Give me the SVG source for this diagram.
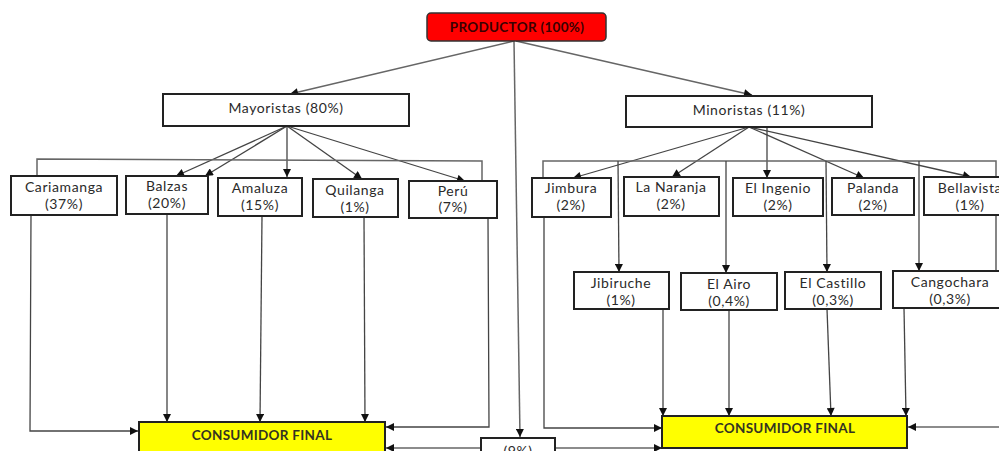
<svg xmlns="http://www.w3.org/2000/svg" width="999" height="451" viewBox="0 0 999 451">
<defs>
<marker id="arr" viewBox="0 0 10 10" refX="10" refY="5" markerWidth="9" markerHeight="8" orient="auto" markerUnits="userSpaceOnUse">
<path d="M0,0 L10,5 L0,10 z" fill="#111"/>
</marker>
<style>
.box{fill:#fff;stroke:#222;stroke-width:2}
.red{fill:#f00;stroke:#333;stroke-width:1.5}
.yel{fill:#ff0;stroke:#222;stroke-width:2}
text{font-family:Lato,"Open Sans","Liberation Sans",sans-serif;font-size:14px;fill:#2a2a2a;text-anchor:middle;font-weight:400;letter-spacing:0.6px}
.cap{font-size:13.5px;fill:#332;font-weight:700;letter-spacing:0.3px}
.ln{fill:none;stroke:#666;stroke-width:1.5}
.lk{fill:none;stroke:#444;stroke-width:1.3}
.ar{marker-end:url(#arr)}
</style>
</defs>
<rect width="999" height="451" fill="#fff"/>

<g id="connectors">
<line class="ln ar" x1="514" y1="41" x2="290" y2="94"/>
<line class="ln ar" x1="516" y1="41" x2="752" y2="95"/>
<line class="ln ar" x1="514" y1="41" x2="520" y2="437"/>

<line class="lk ar" x1="287" y1="126" x2="205" y2="176"/>
<line class="lk ar" x1="287" y1="126" x2="176" y2="176"/>
<line class="lk ar" x1="287" y1="126" x2="287" y2="177"/>
<line class="lk ar" x1="287" y1="126" x2="362" y2="179"/>
<line class="lk ar" x1="287" y1="126" x2="465" y2="181"/>
<polyline class="ln" points="37,176 37,159 482,161 482,181"/>

<polyline class="lk ar" points="31,215 30,431 138,431"/>
<line class="lk ar" x1="167" y1="214" x2="167" y2="422"/>
<line class="lk ar" x1="262" y1="216" x2="260" y2="422"/>
<line class="lk ar" x1="364" y1="217" x2="365" y2="422"/>
<polyline class="lk ar" points="488,218 489,427 386,427"/>

<line class="ln ar" x1="481" y1="448" x2="386" y2="448"/>
<line class="ln ar" x1="555" y1="448" x2="662" y2="448"/>

<line class="lk ar" x1="749" y1="127" x2="573" y2="178"/>
<line class="lk ar" x1="749" y1="127" x2="672" y2="177"/>
<line class="lk ar" x1="767" y1="127" x2="767" y2="178"/>
<line class="lk ar" x1="749" y1="127" x2="864" y2="178"/>
<line class="lk ar" x1="749" y1="127" x2="971" y2="177"/>
<polyline class="ln" points="543,178 543,161 996,161 996,177"/>
<line class="lk ar" x1="618" y1="161" x2="619" y2="272"/>
<line class="lk ar" x1="726" y1="161" x2="726" y2="273"/>
<line class="lk ar" x1="826" y1="161" x2="827" y2="272"/>
<line class="lk ar" x1="919" y1="161" x2="919" y2="271"/>

<polyline class="lk ar" points="544,217 544,428 662,428"/>
<line class="lk" x1="996" y1="215" x2="996" y2="271"/>
<line class="ln ar" x1="999" y1="427" x2="908" y2="427"/>

<line class="lk ar" x1="663" y1="309" x2="663" y2="416"/>
<line class="lk ar" x1="729" y1="310" x2="729" y2="416"/>
<line class="lk ar" x1="827" y1="309" x2="831" y2="416"/>
<line class="lk ar" x1="904" y1="308" x2="906" y2="416"/>
</g>

<g id="productor"><rect class="red" x="427" y="13" width="179" height="28" rx="4"/><text class="cap" x="517" y="32" style="fill:#3a0000">PRODUCTOR (100%)</text></g>
<g id="mayoristas"><rect class="box" x="163" y="94" width="246" height="32"/><text x="286" y="113">Mayoristas (80%)</text></g>
<g id="minoristas"><rect class="box" x="626" y="96" width="246" height="31"/><text x="749" y="115">Minoristas (11%)</text></g>

<g id="cariamanga"><rect class="box" x="11" y="176" width="106" height="39"/><text x="64" y="192">Cariamanga</text><text x="64" y="209">(37%)</text></g>
<g id="balzas"><rect class="box" x="126" y="176" width="82" height="38"/><text x="167" y="191">Balzas</text><text x="167" y="208">(20%)</text></g>
<g id="amaluza"><rect class="box" x="218" y="178" width="84" height="38"/><text x="260" y="193">Amaluza</text><text x="260" y="210">(15%)</text></g>
<g id="quilanga"><rect class="box" x="313" y="179" width="85" height="38"/><text x="355" y="195">Quilanga</text><text x="355" y="212">(1%)</text></g>
<g id="peru"><rect class="box" x="409" y="181" width="88" height="37"/><text x="453" y="196">Perú</text><text x="453" y="212">(7%)</text></g>

<g id="jimbura"><rect class="box" x="532" y="178" width="79" height="39"/><text x="571" y="193">Jimbura</text><text x="571" y="210">(2%)</text></g>
<g id="lanaranja"><rect class="box" x="624" y="177" width="95" height="39"/><text x="671" y="192">La Naranja</text><text x="671" y="209">(2%)</text></g>
<g id="elingenio"><rect class="box" x="733" y="178" width="90" height="38"/><text x="778" y="193">El Ingenio</text><text x="778" y="210">(2%)</text></g>
<g id="palanda"><rect class="box" x="832" y="178" width="82" height="37"/><text x="873" y="193">Palanda</text><text x="873" y="210">(2%)</text></g>
<g id="bellavista"><rect class="box" x="924" y="177" width="90" height="38"/><text x="970" y="193">Bellavista</text><text x="970" y="210">(1%)</text></g>

<g id="jibiruche"><rect class="box" x="574" y="272" width="95" height="37"/><text x="621" y="288">Jibiruche</text><text x="621" y="305">(1%)</text></g>
<g id="elairo"><rect class="box" x="681" y="273" width="96" height="37"/><text x="729" y="289">El Airo</text><text x="729" y="306">(0,4%)</text></g>
<g id="elcastillo"><rect class="box" x="785" y="272" width="96" height="37"/><text x="833" y="288">El Castillo</text><text x="833" y="305">(0,3%)</text></g>
<g id="cangochara"><rect class="box" x="893" y="271" width="114" height="37"/><text x="950" y="287">Cangochara</text><text x="950" y="304">(0,3%)</text></g>

<g id="consumidor-izq"><rect class="yel" x="139" y="422" width="246" height="40"/><text class="cap" x="262" y="440">CONSUMIDOR FINAL</text></g>
<g id="consumidor-der"><rect class="yel" x="662" y="416" width="245" height="32"/><text class="cap" x="785" y="433">CONSUMIDOR FINAL</text></g>
<g id="nueve"><rect class="box" x="481" y="438" width="74" height="30"/><text x="518" y="456">(9%)</text></g>
</svg>
